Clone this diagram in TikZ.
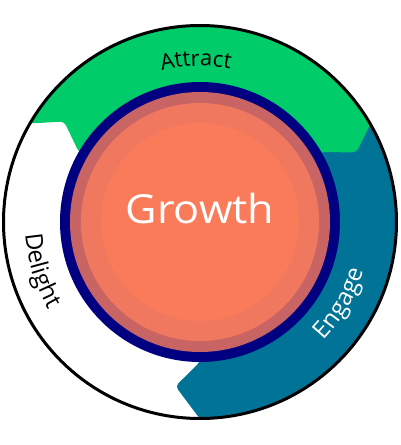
\documentclass[tikz,border=0pt]{standalone}
\usepackage{fontspec}
\setmainfont{Open Sans}
\usetikzlibrary{decorations.text}
\definecolor{segGreen}{HTML}{00CC6A}
\definecolor{segBlue}{HTML}{007396}
\definecolor{ringNavy}{HTML}{000080}
\definecolor{ringDark}{HTML}{C86464}
\definecolor{ringMid}{HTML}{F0785F}
\definecolor{coreSalmon}{HTML}{FA7B5A}
\tikzset{
  segfill/.style={fill=#1, rounded corners=4pt},
}
\begin{document}
\begin{tikzpicture}[x=1pt,y=1pt]
\useasboundingbox[fill=white] (-200,-223) rectangle (200,222);
% Engage (blue) segment
\path[segfill=segBlue] (0,0) -- (-90:140) -- (-98.5:166) -- (-90:197)
   arc[start angle=-90, end angle=45, radius=197] -- cycle;
% Attract (green) segment
\path[segfill=segGreen] (0,0) -- (30:140) -- (24:171) -- (30:197)
   arc[start angle=30, end angle=150, radius=197] -- (143.5:169) -- (150:140) -- cycle;
% outer outline
\draw[line width=3pt] (0,0) circle[radius=196.5];
% centre rings
\fill[ringNavy] (0,0) circle[radius=140];
\fill[ringDark] (0,0) circle[radius=130];
\fill[ringMid] (0,0) circle[radius=119];
\fill[coreSalmon] (0,0) circle[radius=99];
\node[text=white, font=\fontsize{40}{40}\selectfont, anchor=base, xscale=1.08, inner sep=0pt] (growth) at (0,-1) {Growth};
% labels along the ring
\path[decorate, decoration={text along path, text align=center,
   text={|\fontsize{22}{22}\selectfont|Attract}}]
   (116.5:156) arc[start angle=116.5, end angle=66.5, radius=156];
\path[decorate, decoration={text along path, text align=center,
   text={|\fontsize{24}{24}\selectfont|Delight}}]
   (176:175) arc[start angle=176, end angle=218, radius=175];
\path[decorate, decoration={text along path, text align=center, text color=white,
   text={|\fontsize{24}{24}\selectfont|Engage}}]
   (-51:171) arc[start angle=-51, end angle=-9, radius=171];
\end{tikzpicture}
\end{document}
